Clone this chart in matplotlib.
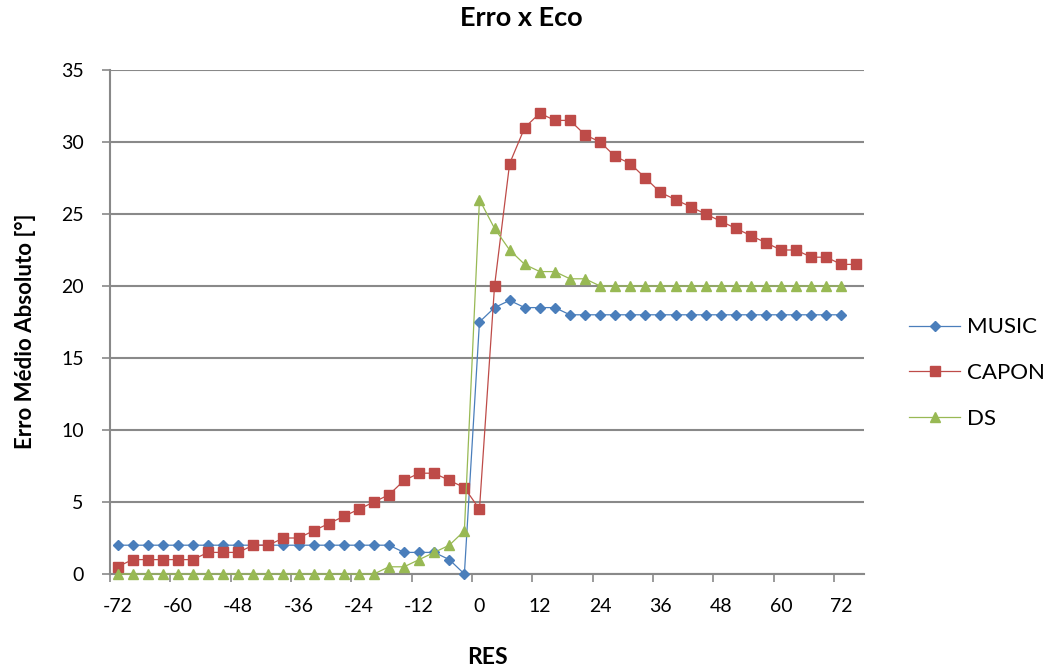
import numpy as np
import matplotlib
matplotlib.use('Agg')
import matplotlib.pyplot as plt

plt.rcParams['font.family'] = ['Lato', 'DejaVu Sans']

# RES categories (graus)
res = [-72, -69, -66, -63, -60, -57, -54, -51, -48, -45,
       -42, -39, -36, -33, -30, -27, -24, -21, -18, -15,
       -12, -9, -6, -3, 0, 3, 6, 9, 12, 15,
       18, 21, 24, 27, 30, 33, 36, 39, 42, 45,
       48, 51, 54, 57, 60, 63, 66, 69, 72, 75]

music = [2, 2, 2, 2, 2, 2, 2, 2, 2, 2,
         2, 2, 2, 2, 2, 2, 2, 2, 2, 1.5,
         1.5, 1.5, 1, 0, 17.5, 18.5, 19, 18.5, 18.5, 18.5,
         18, 18, 18, 18, 18, 18, 18, 18, 18, 18,
         18, 18, 18, 18, 18, 18, 18, 18, 18]

capon = [0.5, 1, 1, 1, 1, 1, 1.5, 1.5, 1.5, 2,
         2, 2.5, 2.5, 3, 3.5, 4, 4.5, 5, 5.5, 6.5,
         7, 7, 6.5, 6, 4.5, 20, 28.5, 31, 32, 31.5,
         31.5, 30.5, 30, 29, 28.5, 27.5, 26.5, 26, 25.5, 25,
         24.5, 24, 23.5, 23, 22.5, 22.5, 22, 22, 21.5, 21.5]

ds = [0, 0, 0, 0, 0, 0, 0, 0, 0, 0,
      0, 0, 0, 0, 0, 0, 0, 0, 0.5, 0.5,
      1, 1.5, 2, 3, 26, 24, 22.5, 21.5, 21, 21,
      20.5, 20.5, 20, 20, 20, 20, 20, 20, 20, 20,
      20, 20, 20, 20, 20, 20, 20, 20, 20]

W, H = 1046, 669
fig = plt.figure(figsize=(W / 100, H / 100), dpi=100)
ax = fig.add_axes([110 / W, 1 - 574 / H, 754 / W, 504 / H])

pos = np.arange(len(res)) + 0.5
grid_c = '#898989'

ax.plot(pos[:len(music)], music, color='#4A7EBB', lw=0.9, marker='D', ms=5.5,
        label='MUSIC', clip_on=False, zorder=3)
ax.plot(pos[:len(capon)], capon, color='#BE4B48', lw=0.9, marker='s', ms=6.5,
        label='CAPON', clip_on=False, zorder=3)
ax.plot(pos[:len(ds)], ds, color='#98B954', lw=0.9, marker='^', ms=7,
        label='DS', clip_on=False, zorder=3)

ax.set_xlim(0, len(res))
ax.set_ylim(0, 35)
ax.set_yticks(np.arange(0, 36, 5))
ax.yaxis.grid(True, color=grid_c, lw=1.5)
ax.set_axisbelow(True)

# tick marks between categories, labels centred on categories
ax.set_xticks(np.arange(0, len(res), 4))
ax.set_xticklabels([])
ax.set_xticks(pos[::4], minor=True)
ax.set_xticklabels([str(r) for r in res[::4]], minor=True)
ax.tick_params(axis='x', which='major', length=6, width=1.2, color=grid_c,
               direction='out')
ax.tick_params(axis='x', which='minor', length=0, pad=17, labelsize=14)
ax.tick_params(axis='y', length=6, width=1.2, color=grid_c, pad=13,
               labelsize=14)

for s in ['top', 'right']:
    ax.spines[s].set_visible(False)
for s in ['left', 'bottom']:
    ax.spines[s].set_color(grid_c)
    ax.spines[s].set_linewidth(1.5)
    ax.spines[s].set_zorder(2)

fig.text(521 / W, 1 - 18 / H, 'Erro x Eco', ha='center', va='center',
         fontsize=19.5, fontweight='bold')
fig.text(26 / W, 1 - 331 / H, 'Erro Médio Absoluto [°]', ha='center',
         va='center', rotation=90, fontsize=16, fontweight='bold')
fig.text(487 / W, 1 - 658 / H, 'RES', ha='center', va='center',
         fontsize=16.5, fontweight='bold')

fig.legend(loc='center left', bbox_to_anchor=(909 / W, 1 - 373 / H),
           frameon=False, fontsize=16, borderpad=0, borderaxespad=0,
           handlelength=2.3, handletextpad=0.3, labelspacing=1.15)

fig.savefig('out.png', dpi=100)
